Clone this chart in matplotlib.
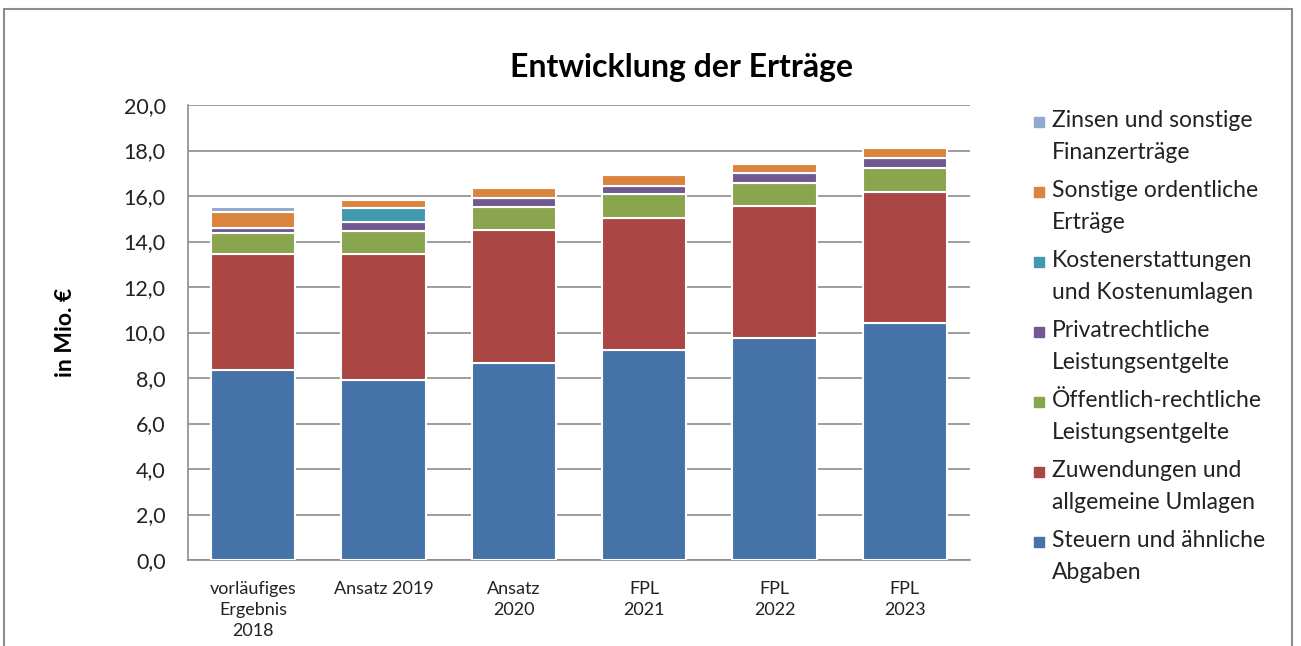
import matplotlib.pyplot as plt
from matplotlib.patches import Rectangle

plt.rcParams['font.family'] = ['Lato', 'DejaVu Sans']

categories = ["vorläufiges\nErgebnis\n2018", "Ansatz 2019", "Ansatz\n2020",
              "FPL\n2021", "FPL\n2022", "FPL\n2023"]

# series from bottom to top, values in Mio. EUR
series_names = ["Steuern und ähnliche\nAbgaben",
                "Zuwendungen und\nallgemeine Umlagen",
                "Öffentlich-rechtliche\nLeistungsentgelte",
                "Privatrechtliche\nLeistungsentgelte",
                "Kostenerstattungen\nund Kostenumlagen",
                "Sonstige ordentliche\nErträge",
                "Zinsen und sonstige\nFinanzerträge"]
steuern = [8.35, 7.91, 8.67, 9.23, 9.77, 10.40]
zuwendungen = [5.10, 5.55, 5.85, 5.82, 5.80, 5.78]
oeffentlich = [0.92, 1.00, 1.00, 1.04, 1.01, 1.06]
privat = [0.22, 0.38, 0.41, 0.37, 0.42, 0.42]
kosten = [0.00, 0.63, 0.00, 0.00, 0.00, 0.00]
sonstige = [0.71, 0.35, 0.42, 0.46, 0.42, 0.44]
zinsen = [0.22, 0.00, 0.00, 0.00, 0.00, 0.00]
values = [steuern, zuwendungen, oeffentlich, privat, kosten, sonstige, zinsen]
colors = ["#4572A7", "#AA4643", "#89A54E", "#71588F", "#4198AF", "#DB843D", "#93A9CF"]

W, H = 1301, 646
fig = plt.figure(figsize=(W / 100, H / 100), dpi=100)

# outer chart frame
fig.add_artist(Rectangle((4 / W, -0.05), 1288 / W, 1.05 - 9 / H, transform=fig.transFigure,
                         fill=False, edgecolor="#8c8c8c", linewidth=1.5))

ax = fig.add_axes([188 / W, 1 - 560 / H, 782 / W, 455 / H])

x = range(len(categories))
bottom = [0.0] * len(categories)
for vals, col in zip(values, colors):
    ax.bar(x, vals, width=0.645, bottom=bottom, color=col, edgecolor="white",
           linewidth=1.5, zorder=3)
    bottom = [b + v for b, v in zip(bottom, vals)]

ax.set_ylim(0, 20)
ax.set_xlim(-0.5, 5.5)
ax.set_yticks([0, 2, 4, 6, 8, 10, 12, 14, 16, 18, 20])
ax.set_yticklabels([f"{v:.1f}".replace(".", ",") for v in range(0, 21, 2)])
ax.set_xticks(list(x))
ax.set_xticklabels(categories, linespacing=1.4)
ax.tick_params(axis="y", length=0, pad=16, labelsize=15.5, colors="#222222")
ax.tick_params(axis="x", length=0, pad=15, labelsize=13, colors="#222222")
ax.grid(axis="y", color="#8c8c8c", linewidth=1.2, zorder=0)
for side in ["top", "right"]:
    ax.spines[side].set_visible(False)
for side in ["left", "bottom"]:
    ax.spines[side].set_color("#8c8c8c")
    ax.spines[side].set_linewidth(1.2)
ax.spines["left"].set_zorder(4)

ax.set_ylabel("in Mio. €", fontsize=16.5, fontweight="bold", labelpad=34)

fig.text(682 / W, 1 - 67 / H, "Entwicklung der Erträge", ha="center", va="center",
         fontsize=23, fontweight="bold")

# legend, top entry = top series
for i, (name, col) in enumerate(zip(series_names[::-1], colors[::-1])):
    yc = 122 + 70 * i
    fig.add_artist(Rectangle((1034 / W, 1 - (yc + 5) / H), 10 / W, 10 / H,
                             transform=fig.transFigure, color=col))
    fig.text(1052 / W, 1 - (yc - 12) / H, name, ha="left", va="top", fontsize=16.5,
             linespacing=1.65, color="#222222")

fig.savefig("out.png", dpi=100)
